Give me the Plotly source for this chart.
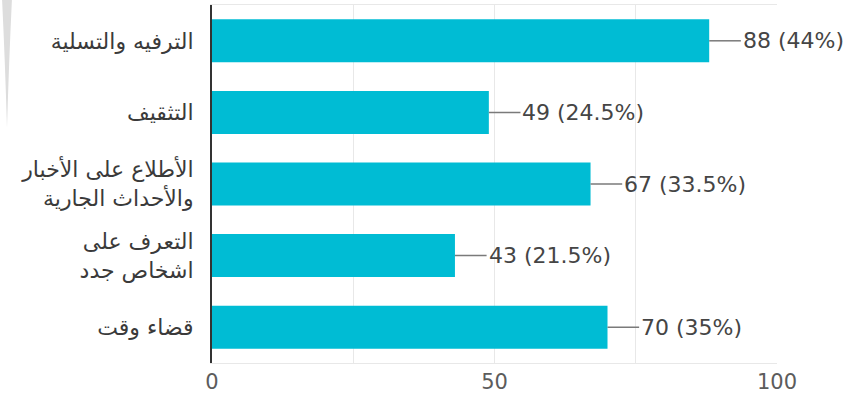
import plotly.graph_objects as go

# Survey responses (n = 200)
categories = [
    "الترفيه والتسلية",
    "التثقيف",
    "الأطلاع على الأخبار<br>والأحداث الجارية",
    "التعرف على<br>اشخاص جدد",
    "قضاء وقت",
]
counts = [88, 49, 67, 43, 70]
percents = ["44%", "24.5%", "33.5%", "21.5%", "35%"]
x_ticks = [0, 50, 100]

W, H = 858, 394
L, R, T, B = 212, 81, 5, 31
BAR = "#00BCD4"
LEADER = 5.6  # leader line length in data units

fig = go.Figure(
    go.Bar(
        x=counts,
        y=categories,
        orientation="h",
        marker=dict(color=BAR, line=dict(width=0)),
        width=0.6,
        hoverinfo="skip",
    )
)

# leader lines and value labels to the right of each bar
for cat, v, p in zip(categories, counts, percents):
    fig.add_shape(
        type="line", xref="x", yref="y",
        x0=v, x1=v + LEADER, y0=cat, y1=cat,
        line=dict(color="#7a7a7a", width=1.5),
    )
    fig.add_annotation(
        x=v + LEADER, y=cat, xref="x", yref="y",
        text=f"{v} ({p})", showarrow=False,
        xanchor="left", yanchor="middle", xshift=0,
        font=dict(family="DejaVu Sans", size=22, color="#454545"),
    )

# soft grey sliver at the top-left edge
def px(xp, yp):
    return (xp - L) / (W - L - R), (H - B - yp) / (H - T - B)

pts = [(2, -2), (5, 60), (7, 128), (9, 60), (12, -2)]
c = [px(a, b) for a, b in pts]
path = (f"M {c[0][0]},{c[0][1]} Q {c[1][0]},{c[1][1]} {c[2][0]},{c[2][1]} "
        f"Q {c[3][0]},{c[3][1]} {c[4][0]},{c[4][1]} Z")
fig.add_shape(type="path", xref="paper", yref="paper", path=path,
              fillcolor="#dddddd", line=dict(width=0), layer="below")

fig.update_layout(
    width=W, height=H,
    margin=dict(l=L, r=R, t=T, b=B, pad=0),
    paper_bgcolor="white", plot_bgcolor="white",
    showlegend=False,
    xaxis=dict(
        range=[0, 100],
        tickvals=x_ticks,
        ticktext=[str(t) for t in x_ticks],
        showgrid=True, gridcolor="#e8e8e8", gridwidth=1,
        minor=dict(dtick=25, showgrid=True, gridcolor="#e8e8e8", gridwidth=1),
        zeroline=False,
        showline=True, mirror=True, linecolor="#e8e8e8", linewidth=1,
        ticks="", ticklabelstandoff=0,
        tickfont=dict(family="DejaVu Sans", size=21, color="#5c5c5c"),
        automargin=False,
        fixedrange=True,
    ),
    yaxis=dict(
        autorange="reversed",
        showgrid=False, zeroline=False,
        showline=True, linecolor="#333333", linewidth=2,
        ticks="", ticklabelstandoff=12,
        tickfont=dict(family="DejaVu Sans", size=22, color="#3a3a3a"),
        automargin=False,
        fixedrange=True,
    ),
    bargap=0.4,
)

fig.write_html("out.html", config={"displayModeBar": False})
